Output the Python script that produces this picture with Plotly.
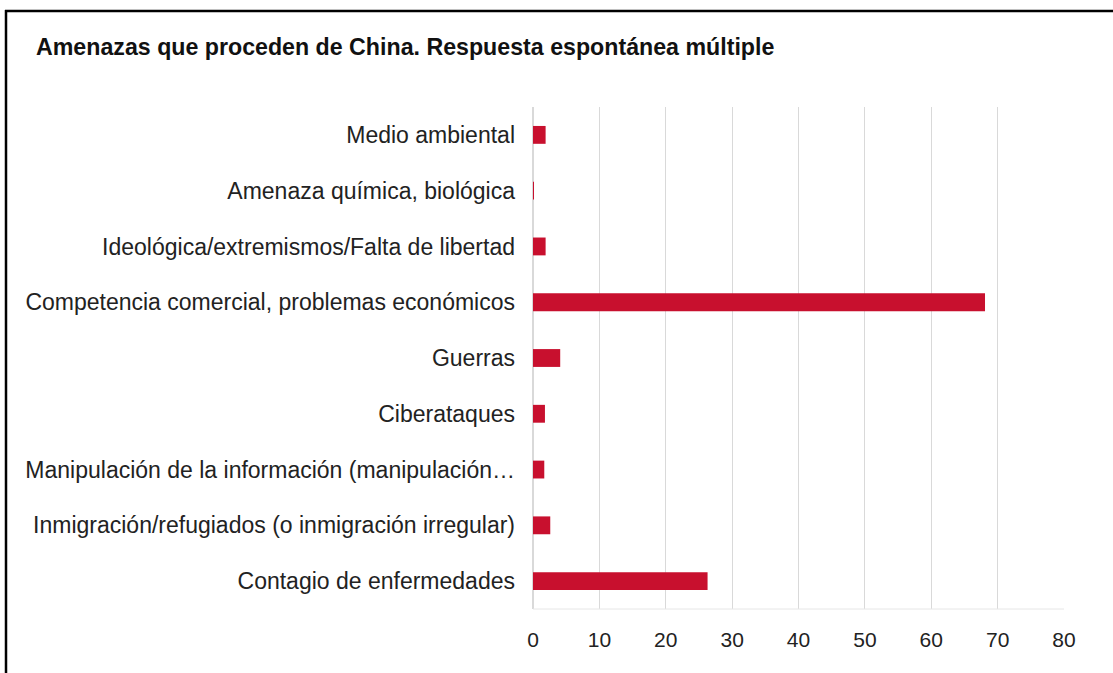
import plotly.graph_objects as go

categories = [
    "Medio ambiental",
    "Amenaza química, biológica",
    "Ideológica/extremismos/Falta de libertad",
    "Competencia comercial, problemas económicos",
    "Guerras",
    "Ciberataques",
    "Manipulación de la información (manipulación…",
    "Inmigración/refugiados (o inmigración irregular)",
    "Contagio de enfermedades",
]
values = [1.9, 0.1, 1.9, 68.1, 4.1, 1.8, 1.7, 2.6, 26.3]
tick_vals = [0, 10, 20, 30, 40, 50, 60, 70, 80]

W, H = 1113, 673
ML, MR, MT, MB = 533, 49, 107, 64
pw, ph = W - ML - MR, H - MT - MB

FONT = "Liberation Sans, Arial, sans-serif"

fig = go.Figure(go.Bar(
    x=values, y=categories, orientation="h",
    marker=dict(color="#C8102E", line=dict(width=0)),
))

fig.update_layout(
    width=W, height=H,
    margin=dict(l=ML, r=MR, t=MT, b=MB, pad=0),
    paper_bgcolor="white", plot_bgcolor="white",
    bargap=0.68,
    showlegend=False,
    font=dict(family=FONT, color="#222222", size=22),
    title=dict(
        text="<b>Amenazas que proceden de China. Respuesta espontánea múltiple</b>",
        x=36 / W, xanchor="left", xref="container",
        y=1 - 47 / H, yanchor="middle", yref="container",
        font=dict(family=FONT, size=23.2, color="#111111"),
    ),
    xaxis=dict(
        range=[0, 80], tickvals=tick_vals, showgrid=True,
        gridcolor="#d9d9d9", gridwidth=1, zeroline=True, zerolinecolor="#d9d9d9",
        showline=False, ticks="", ticklabelstandoff=16,
        tickfont=dict(family=FONT, size=21, color="#222222"),
        fixedrange=True,
    ),
    yaxis=dict(
        autorange="reversed", showgrid=False, showline=False, ticks="",
        ticklabelstandoff=17,
        tickfont=dict(family=FONT, size=23, color="#222222"),
        fixedrange=True,
    ),
    shapes=[
        dict(type="line", xref="paper", yref="paper",
             x0=(5 - ML) / pw, x1=(W + 5 - ML) / pw,
             y0=(H - MB - 11) / ph, y1=(H - MB - 11) / ph,
             line=dict(color="black", width=2.5)),
        dict(type="line", xref="paper", yref="paper",
             x0=(6 - ML) / pw, x1=(6 - ML) / pw,
             y0=(H - MB - 10) / ph, y1=(-MB - 5) / ph,
             line=dict(color="black", width=2.5)),
        dict(type="line", xref="paper", yref="paper",
             x0=0, x1=1, y0=0, y1=0,
             line=dict(color="#e6e6e6", width=1)),
    ],
)

fig.write_html("out.html")
